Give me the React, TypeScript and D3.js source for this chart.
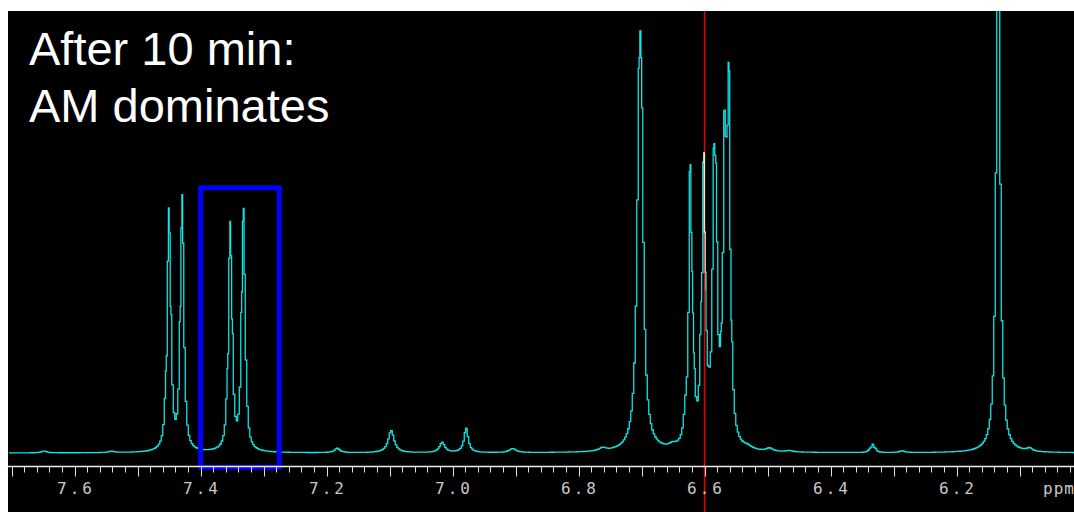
import React, { useEffect, useRef } from "react";
import * as d3 from "d3";

// peak table: position (ppm), height (% of full scale), half width (ppm)
const peakPpm = [
  7.648, 7.541,
  7.4548, 7.4503, 7.4471, 7.4321, 7.429, 7.4254,
  7.3571, 7.3529, 7.3497, 7.3344, 7.3317, 7.3278,
  7.183, 7.0973, 7.0163, 6.9783, 6.9043, 6.7619,
  6.7037, 6.7003, 6.6508,
  6.6302, 6.6227, 6.6195, 6.6167, 6.6052, 6.6011, 6.5984, 6.5929,
  6.5852, 6.5817, 6.5738, 6.5683, 6.5651, 6.5614, 6.5571,
  6.5317, 6.4968, 6.4651, 6.3374, 6.3329, 6.3287, 6.2862,
  6.1338, 6.0841,
];
const peakHeight = [
  0.4, 0.3,
  6, 48, 14, 12, 51, 6,
  6, 45.5, 12, 14, 46.5, 6,
  1.0, 5.0, 2.3, 5.5, 0.9, 0.7,
  56, 56, 0.7,
  5, 56, 15, 4, 14, 56, 8, 4,
  49, 43, 6, 55, 25, 70, 6,
  0.6, 0.7, 0.3, 0.6, 1.6, 0.6, 0.4,
  150, 0.7,
];
const peakWidth = [
  0.005, 0.006,
  0.0025, 0.0024, 0.0024, 0.0024, 0.0024, 0.0025,
  0.0025, 0.0024, 0.0024, 0.0024, 0.0024, 0.0025,
  0.005, 0.0056, 0.005, 0.004, 0.0063, 0.0063,
  0.0041, 0.0041, 0.0063,
  0.0032, 0.0025, 0.0025, 0.0025, 0.0025, 0.0025, 0.0025, 0.0025,
  0.0025, 0.0025, 0.0025, 0.0025, 0.0025, 0.0025, 0.0032,
  0.008, 0.0063, 0.0063, 0.0024, 0.0024, 0.0024, 0.005,
  0.003, 0.005,
];

const tickLabels = ["7.6", "7.4", "7.2", "7.0", "6.8", "6.6", "6.4", "6.2"];
const unitLabel = "ppm";
const cursorPpm = 6.6;
const boxPpm = [7.4, 7.275];
const boxTop = 60;
const titleLines = ["After 10 min:", "AM dominates"];

export default function App() {
  const ref = useRef<SVGSVGElement>(null);

  useEffect(() => {
    const W = 1074, H = 512;
    const left = 8, top = 11, axisY = 466.5;
    const svg = d3.select(ref.current);
    svg.selectAll("*").remove();

    const x = d3.scaleLinear().domain([7.7056, 6.0135]).range([left, W]);
    const y = d3.scaleLinear().domain([0, 100]).range([453, top]);

    svg.append("rect").attr("width", W).attr("height", H).attr("fill", "#fff");
    svg.append("rect")
      .attr("x", left).attr("y", top)
      .attr("width", W - left).attr("height", H - top)
      .attr("fill", "#000");

    const defs = svg.append("defs");
    defs.append("clipPath").attr("id", "plotclip")
      .append("rect")
      .attr("x", left).attr("y", top)
      .attr("width", W - left).attr("height", axisY - top);
    defs.append("clipPath").attr("id", "cursorclip")
      .append("rect")
      .attr("x", x(cursorPpm) - 1.2).attr("y", top)
      .attr("width", 2.4).attr("height", 290 - top);

    // spectrum: lorentzian lines from the peak table, sampled about every 1.5 px
    function intensity(p: number) {
      let s = 0;
      for (let i = 0; i < peakPpm.length; i++) {
        const d = (p - peakPpm[i]) / peakWidth[i];
        s += peakHeight[i] / (1 + d * d);
      }
      return s;
    }
    const step = 1.5 / 630;
    const grid = d3.range(6.0135, 7.7056, step).concat(peakPpm);
    grid.sort((a, b) => b - a);
    const pts = grid.map((p) => [p, intensity(p)] as [number, number]);

    const line = d3.line<[number, number]>()
      .x((d) => x(d[0]))
      .y((d) => y(d[1]))
      .curve(d3.curveStep);

    svg.append("path")
      .datum(pts)
      .attr("clip-path", "url(#plotclip)")
      .attr("d", line)
      .attr("fill", "none")
      .attr("stroke", "#10e4e4")
      .attr("stroke-width", 1.3);

    // cursor
    svg.append("line")
      .attr("x1", x(cursorPpm)).attr("x2", x(cursorPpm))
      .attr("y1", top).attr("y2", H)
      .attr("stroke", "#ee0000")
      .attr("stroke-width", 1.5);

    // where the trace runs along the cursor it shows up white
    svg.append("path")
      .datum(pts)
      .attr("clip-path", "url(#cursorclip)")
      .attr("d", line)
      .attr("fill", "none")
      .attr("stroke", "#e8e8e8")
      .attr("stroke-width", 1.3);

    // highlighted region
    svg.append("rect")
      .attr("x", x(boxPpm[0]))
      .attr("y", y(boxTop))
      .attr("width", x(boxPpm[1]) - x(boxPpm[0]))
      .attr("height", axisY + 1 - y(boxTop))
      .attr("fill", "none")
      .attr("stroke", "#0000ff")
      .attr("stroke-width", 5);

    // axis
    const minorVals = d3.range(301, 386).map((k) => k / 50);
    const majorVals = d3.range(61, 78).map((k) => k / 10);
    const g = svg.append("g");
    g.append("line")
      .attr("x1", left).attr("x2", W)
      .attr("y1", axisY).attr("y2", axisY)
      .attr("stroke", "#eeeeee").attr("stroke-width", 1.5);
    g.selectAll("line.minor")
      .data(minorVals)
      .join("line")
      .attr("class", "minor")
      .attr("x1", (d) => Math.round(x(d)) + 0.5).attr("x2", (d) => Math.round(x(d)) + 0.5)
      .attr("y1", axisY).attr("y2", axisY + 6)
      .attr("stroke", "#e0e0e0");
    g.selectAll("line.major")
      .data(majorVals)
      .join("line")
      .attr("class", "major")
      .attr("x1", (d) => Math.round(x(d)) + 0.5).attr("x2", (d) => Math.round(x(d)) + 0.5)
      .attr("y1", axisY).attr("y2", axisY + 10)
      .attr("stroke", "#e0e0e0");
    g.selectAll("text.lab")
      .data(tickLabels)
      .join("text")
      .attr("class", "lab")
      .attr("x", (d) => x(+d) + 1.5)
      .attr("y", 494)
      .attr("text-anchor", "middle")
      .attr("font-family", "DejaVu Sans Mono")
      .attr("font-size", 16)
      .attr("letter-spacing", 3)
      .attr("fill", "#c8c8c8")
      .text((d) => d);
    g.append("text")
      .attr("x", 1043).attr("y", 494)
      .attr("font-family", "DejaVu Sans Mono")
      .attr("font-size", 16)
      .attr("letter-spacing", 1)
      .attr("fill", "#c8c8c8")
      .text(unitLabel);

    svg.selectAll("text.title")
      .data(titleLines)
      .join("text")
      .attr("class", "title")
      .attr("x", 29)
      .attr("y", (d, i) => 65 + i * 57)
      .attr("font-family", "Liberation Sans, Arial, sans-serif")
      .attr("font-size", 47)
      .attr("fill", "#fff")
      .text((d) => d);
  }, []);

  return (
    <div style={{ position: "absolute", left: 0, top: 0 }}>
      <svg ref={ref} width={1074} height={512} style={{ display: "block" }} />
    </div>
  );
}
